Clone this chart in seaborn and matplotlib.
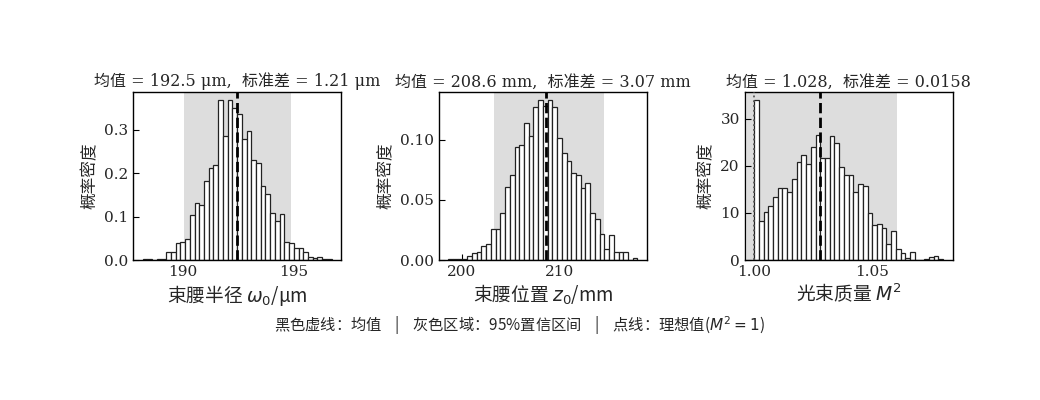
import numpy as np
import pandas as pd
import matplotlib
matplotlib.use("Agg")
import matplotlib.pyplot as plt
import seaborn as sns
from matplotlib.ticker import MultipleLocator, FormatStrFormatter

# ---------------- data ----------------
# beam waist radius w0 (um): histogram over data range, 40 bins, density
w0_range = (188.18, 196.74)
w0_density = [0.002, 0.002, 0.000, 0.002, 0.002, 0.018, 0.018, 0.039, 0.042, 0.048,
              0.103, 0.131, 0.126, 0.181, 0.212, 0.219, 0.368, 0.286, 0.368, 0.350,
              0.336, 0.278, 0.297, 0.229, 0.224, 0.170, 0.151, 0.108, 0.089, 0.106,
              0.042, 0.039, 0.027, 0.027, 0.018, 0.008, 0.004, 0.008, 0.002, 0.002]
w0_mean = 192.47
w0_std = 1.21
w0_ci = (190.05, 194.88)

# waist position z0 (mm)
z0_range = (198.65, 217.89)
z0_density = [0.001, 0.0005, 0.001, 0.001, 0.003, 0.0055, 0.007, 0.012, 0.013, 0.026,
              0.026, 0.039, 0.061, 0.071, 0.094, 0.096, 0.114, 0.103, 0.127, 0.133,
              0.128, 0.133, 0.127, 0.101, 0.089, 0.082, 0.072, 0.071, 0.060, 0.064,
              0.039, 0.034, 0.022, 0.009, 0.021, 0.0064, 0.0064, 0.0064, 0.0, 0.002]
z0_mean = 208.6
z0_std = 3.07
z0_ci = (203.3, 214.5)

# beam quality M^2
m2_range = (1.0000, 1.0802)
m2_density = [34.0, 8.3, 10.2, 11.4, 13.4, 15.2, 15.3, 14.4, 17.3, 20.9,
              22.3, 20.3, 24.0, 26.6, 21.7, 21.7, 26.3, 24.9, 19.8, 18.0,
              18.0, 14.5, 16.1, 15.7, 9.9, 7.5, 7.6, 6.9, 3.4, 6.1,
              2.4, 1.4, 0.5, 1.6, 0.0, 0.0, 0.2, 0.6, 0.8, 0.2]
m2_mean = 1.028
m2_std = 0.0158
m2_ci = (0.997, 1.0604)
m2_ideal = 1.0

titles = [f"均值 = {w0_mean:.1f} μm,  标准差 = {w0_std:.2f} μm",
          f"均值 = {z0_mean:.1f} mm,  标准差 = {z0_std:.2f} mm",
          f"均值 = {m2_mean:.3f},  标准差 = {m2_std:.4f}"]
xlabels = [r"束腰半径 $\omega_0$/μm", r"束腰位置 $z_0$/mm", r"光束质量 $M^2$"]
ylabel = "概率密度"
caption = "黑色虚线：均值    |    灰色区域：95%置信区间    |    点线：理想值($M^2=1$)"
y_steps = [0.1, 0.05, 10]
x_steps = [5, 10, 0.05]
y_formats = ["%.1f", "%.2f", "%d"]
x_formats = ["%d", "%d", "%.2f"]

# ---------------- style ----------------
sns.set_style("ticks")
plt.rcParams["font.family"] = ["DejaVu Serif", "Noto Sans CJK SC"]
plt.rcParams["mathtext.fontset"] = "dejavusans"
plt.rcParams["axes.unicode_minus"] = False
plt.rcParams["xtick.direction"] = "in"
plt.rcParams["ytick.direction"] = "in"
plt.rcParams["axes.edgecolor"] = "black"
plt.rcParams["axes.linewidth"] = 1.0

fig = plt.figure(figsize=(10.4, 4), dpi=100)
lefts = [0.128, 0.422, 0.716]
axes = [fig.add_axes([l, 0.35, 0.2, 0.42]) for l in lefts]

panels = [
    (w0_range, w0_density, w0_mean, w0_ci),
    (z0_range, z0_density, z0_mean, z0_ci),
    (m2_range, m2_density, m2_mean, m2_ci),
]

for i, (ax, (rng, dens, mean, ci)) in enumerate(zip(axes, panels)):
    edges = np.linspace(rng[0], rng[1], len(dens) + 1)
    centers = (edges[:-1] + edges[1:]) / 2
    df = pd.DataFrame({"x": centers, "d": np.asarray(dens, dtype=float)})
    ax.axvspan(ci[0], ci[1], color="#dddddd", lw=0, zorder=0)
    sns.histplot(data=df, x="x", weights="d", bins=edges.tolist(), stat="count",
                 color="white", edgecolor="#222222", linewidth=0.9, alpha=1.0,
                 ax=ax, zorder=2)
    pad = 0.05 * (edges[-1] - edges[0])
    ax.set_xlim(edges[0] - pad, edges[-1] + pad)
    ax.set_ylim(0, max(dens) * 1.05)
    ax.axvline(mean, color="black", ls="--", lw=2.0, zorder=4)
    if i == 2:
        ax.axvline(m2_ideal, color="#555555", ls=":", lw=1.3, zorder=4)
    ax.yaxis.set_major_locator(MultipleLocator(y_steps[i]))
    ax.xaxis.set_major_locator(MultipleLocator(x_steps[i]))
    ax.yaxis.set_major_formatter(FormatStrFormatter(y_formats[i]))
    ax.xaxis.set_major_formatter(FormatStrFormatter(x_formats[i]))
    ax.tick_params(axis="both", labelsize=11, length=4, width=0.8, color="black")
    ax.set_title(titles[i], fontsize=11.5, pad=4)
    ax.set_xlabel(xlabels[i], fontsize=13.5, family=["Noto Sans CJK SC", "DejaVu Sans"],
                  labelpad=3)
    ax.set_ylabel(ylabel, fontsize=12, family=["Noto Sans CJK SC", "DejaVu Sans"])
    for s in ax.spines.values():
        s.set_visible(True)
        s.set_color("black")

fig.text(0.5, 0.185, caption, ha="center", va="center", fontsize=11,
         family=["Noto Sans CJK SC", "DejaVu Sans"])

fig.savefig("out.png", dpi=100)
